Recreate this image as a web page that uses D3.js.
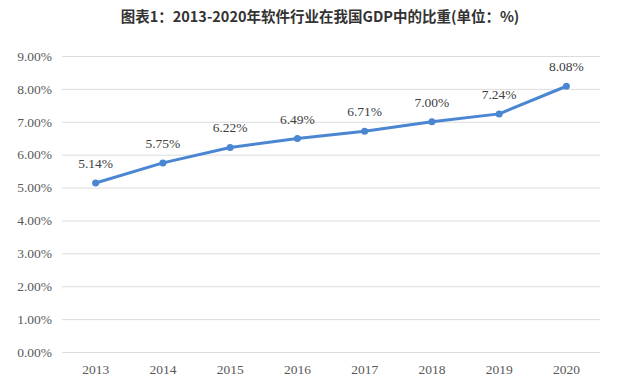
<!DOCTYPE html>
<html><head><meta charset="utf-8">
<script src="https://cdn.jsdelivr.net/npm/d3@7"></script>
<style>body{margin:0;background:#fff}svg{display:block}</style>
</head><body>
<script>
const years = ["2013","2014","2015","2016","2017","2018","2019","2020"];
const shares = [5.14, 5.75, 6.22, 6.49, 6.71, 7.00, 7.24, 8.08];
const yTicks = [0,1,2,3,4,5,6,7,8,9];
const title = "图表1：2013-2020年软件行业在我国GDP中的比重(单位：%)";

const W = 640, H = 392;
const svg = d3.select("body").append("svg").attr("width", W).attr("height", H);
const x = d3.scaleBand().domain(years).range([62, 600]);
const y = d3.scaleLinear().domain([0, 9]).range([352, 56]);

svg.append("text").attr("x", 320).attr("y", 22).attr("text-anchor", "middle")
  .attr("font-family", "'Noto Sans CJK SC', sans-serif").attr("font-weight", "bold")
  .attr("font-size", 14.5).attr("fill", "#333").text(title);

const yAxis = svg.append("g").attr("transform", "translate(62,0)")
  .call(d3.axisLeft(y).tickValues(yTicks).tickSize(-538).tickPadding(10)
    .tickFormat(d => d.toFixed(2) + "%"));
yAxis.select(".domain").remove();
yAxis.selectAll("line").attr("stroke", "#dcdcdc");
yAxis.selectAll("text").attr("font-family", "'Liberation Serif', serif")
  .attr("font-size", 13.5).attr("fill", "#595959");

const xAxis = svg.append("g").attr("transform", "translate(0,352)")
  .call(d3.axisBottom(x).tickSize(0).tickPadding(12));
xAxis.select(".domain").remove();
xAxis.selectAll("text").attr("font-family", "'Liberation Serif', serif")
  .attr("font-size", 13.5).attr("fill", "#595959");

const cx = d => x(d) + x.bandwidth() / 2;
const data = years.map((yr, i) => ({yr, v: shares[i]}));

svg.append("path").datum(data)
  .attr("fill", "none").attr("stroke", "#4a86d2").attr("stroke-width", 3)
  .attr("stroke-linejoin", "round")
  .attr("d", d3.line().x(d => cx(d.yr)).y(d => y(d.v)));

svg.selectAll("circle.pt").data(data).enter().append("circle")
  .attr("cx", d => cx(d.yr)).attr("cy", d => y(d.v)).attr("r", 3.5)
  .attr("fill", "#4a86d2");

svg.selectAll("text.lbl").data(data).enter().append("text")
  .attr("x", d => cx(d.yr)).attr("y", d => y(d.v) - 15)
  .attr("text-anchor", "middle")
  .attr("font-family", "'Liberation Serif', serif").attr("font-size", 13.5)
  .attr("fill", "#404040").text(d => d.v.toFixed(2) + "%");
</script>
</body></html>
